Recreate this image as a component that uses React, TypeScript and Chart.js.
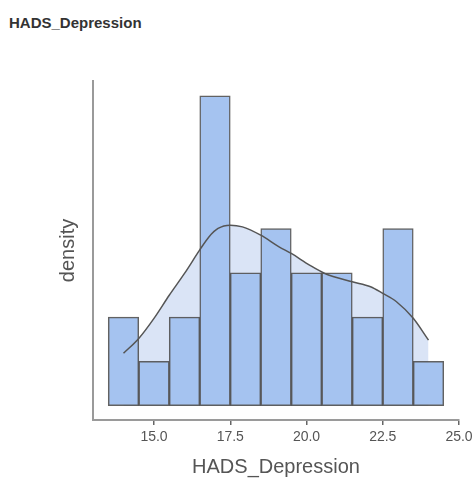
import React, { useEffect, useRef } from "react";
import { Chart, registerables } from "chart.js";

Chart.register(...registerables);

// Histogram bins (centers, width 1) and their density heights
const binCenters = [14, 15, 16, 17, 18, 19, 20, 21, 22, 23, 24];
const binDensity = [0.0625, 0.03125, 0.0625, 0.21875, 0.09375, 0.125, 0.09375, 0.09375, 0.0625, 0.125, 0.03125];

// Kernel density curve
const kdeX = [14.0, 14.5, 15.0, 15.5, 16.0, 16.5, 16.8, 17.1, 17.5, 17.9, 18.5, 19.1, 19.5, 20.1, 20.6, 21.5, 22.1, 22.5, 22.95, 23.5, 24.0];
const kdeY = [0.037, 0.0475, 0.0617, 0.078, 0.0934, 0.11, 0.1192, 0.1252, 0.1275, 0.1263, 0.1204, 0.1122, 0.1075, 0.0993, 0.0934, 0.0875, 0.084, 0.0793, 0.0734, 0.0617, 0.0463];

const xTicks = [15, 17.5, 20, 22.5, 25];

const FONT = "'Liberation Sans', Arial, sans-serif";

export default function App() {
  const ref = useRef<HTMLCanvasElement | null>(null);

  useEffect(() => {
    if (!ref.current) return;
    const kde = kdeX.map((x, i) => ({ x, y: kdeY[i] }));
    const chart = new Chart(ref.current, {
      type: "bar",
      data: {
        datasets: [
          {
            type: "line",
            data: kde,
            fill: "origin",
            backgroundColor: "#dae4f6",
            borderWidth: 0,
            pointRadius: 0,
            cubicInterpolationMode: "monotone",
            order: 3,
          } as any,
          {
            type: "bar",
            data: binCenters.map((x, i) => ({ x, y: binDensity[i] })),
            backgroundColor: "#a5c3f0",
            borderColor: "rgba(70,70,70,0.85)",
            borderWidth: 1.5,
            borderSkipped: false,
            barPercentage: 1,
            categoryPercentage: 1,
            order: 2,
          } as any,
          {
            type: "line",
            data: kde,
            fill: false,
            borderColor: "#555555",
            borderWidth: 1.5,
            pointRadius: 0,
            cubicInterpolationMode: "monotone",
            order: 1,
          } as any,
        ],
      },
      options: {
        animation: false,
        responsive: false,
        events: [],
        layout: { padding: { top: 81, right: 14, bottom: 0, left: 0 } },
        plugins: { legend: { display: false }, tooltip: { enabled: false } },
        scales: {
          x: {
            type: "linear",
            min: 13,
            max: 25,
            offset: false,
            afterBuildTicks: (scale: any) => {
              scale.ticks = xTicks.map((v) => ({ value: v }));
            },
            afterFit: (scale: any) => {
              scale.height = 59;
              scale.paddingRight = 0;
              scale.paddingLeft = 0;
            },
            grid: {
              display: true,
              offset: false,
              drawOnChartArea: false,
              drawTicks: true,
              tickLength: 5,
              color: "#666",
              lineWidth: 1.5,
            },
            border: { display: true, color: "#9a9a9a", width: 2 },
            ticks: {
              padding: 4,
              color: "#555",
              font: { family: FONT, size: 14 },
              callback: (v: any) => Number(v).toFixed(1),
              maxRotation: 0,
            },
            title: {
              display: true,
              text: "HADS_Depression",
              color: "#555",
              font: { family: FONT, size: 20 },
              padding: { top: 0, bottom: 0 },
            },
          },
          y: {
            min: -0.0101,
            max: 0.2293,
            afterFit: (scale: any) => {
              scale.width = 93;
            },
            grid: { display: false },
            border: { display: true, color: "#9a9a9a", width: 2 },
            ticks: { display: false },
            title: {
              display: true,
              text: "density",
              color: "#555",
              font: { family: FONT, size: 20 },
              padding: { top: 56, bottom: 0 },
            },
          },
        },
      },
    });
    return () => chart.destroy();
  }, []);

  return (
    <div style={{ position: "absolute", left: 0, top: 0, width: 473, height: 479, background: "#fff" }}>
      <div
        style={{
          position: "absolute",
          left: 9,
          top: 14,
          fontFamily: FONT,
          fontWeight: 700,
          fontSize: 15,
          color: "#333",
          whiteSpace: "nowrap",
        }}
      >
        HADS_Depression
      </div>
      <canvas ref={ref} width={473} height={479} style={{ position: "absolute", left: 0, top: 0 }} />
    </div>
  );
}
